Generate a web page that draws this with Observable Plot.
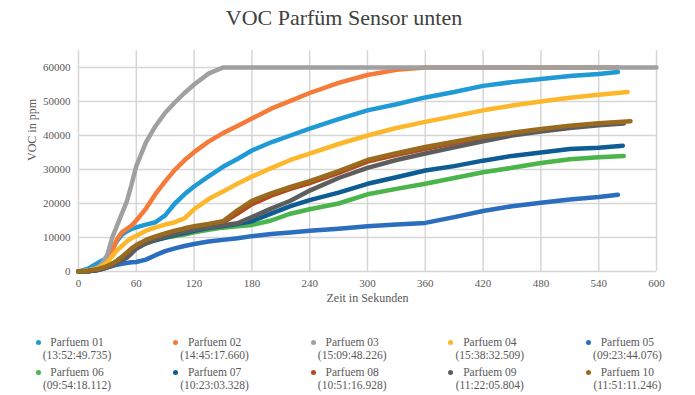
<!DOCTYPE html>
<html><head><meta charset="utf-8">
<script src="https://cdn.jsdelivr.net/npm/d3@7"></script>
<script src="https://cdn.jsdelivr.net/npm/@observablehq/plot@0.6"></script>
<style>
body{margin:0;background:#fff;font-family:"Liberation Serif","Times New Roman",serif;color:#595959;}
#wrap{position:relative;width:695px;height:395px;overflow:hidden;}
#title{height:40px;line-height:36px;text-align:center;font-size:22px;color:#404040;padding-right:7px;}
#legend{position:absolute;left:0;top:0;width:695px;height:395px;}
.mk{position:absolute;width:5px;height:5px;border-radius:50%;}
.tx{position:absolute;width:100px;text-align:center;font-family:"Liberation Serif",serif;font-size:11.5px;line-height:13px;color:#595959;white-space:nowrap;}
</style></head>
<body>
<div id="wrap">
<div id="title">VOC Parfüm Sensor unten</div>
<div id="chart"></div>
<div id="legend"></div>
</div>
<script>
// Time grid (seconds) shared by all series
const tSec = [0,10,20,25,30,35,40,45,50,55,60,70,80,90,100,110,120,135,150,165,180,200,220,240,270,300,330,360,390,420,450,480,510,540];

const p01 = [0,800,2500,3300,4200,6500,9000,10800,11800,12500,13000,13800,14500,16500,20000,22700,25000,28000,30800,33100,35600,38000,40000,42000,44800,47400,49200,51200,52800,54600,55700,56600,57500,58100];
const p02 = [0,300,1200,2000,3000,6000,9500,11500,12500,13500,15000,18500,22800,26500,29900,32700,35100,38200,40700,42800,45000,47900,50200,52500,55500,57800,59300,60000,60000,60000,60000,60000,60000,60000];
const p03 = [0,300,1000,2500,5000,10000,13500,17000,20500,25500,31000,38000,42800,46700,49700,52500,55000,58200,60000,60000,60000,60000,60000,60000,60000,60000,60000,60000,60000,60000,60000,60000,60000,60000];
const p04 = [0,200,1000,1800,2700,4500,6200,7500,8800,9800,10500,12000,13000,13800,14500,15600,18300,21300,23500,25800,27900,30400,32800,34700,37500,40000,42200,44000,45700,47400,48800,50000,51100,52000];
const p05 = [0,100,500,800,1200,1600,2000,2300,2500,2700,2800,3500,4800,6000,6800,7500,8100,8800,9300,9800,10400,11000,11500,12000,12600,13300,13800,14300,16000,17800,19200,20200,21200,21900];
const p06 = [0,100,500,900,1500,2200,3000,4200,5500,6500,7300,8500,9300,9900,10400,10900,11500,12300,12900,13300,13700,15000,17000,18300,20000,22700,24300,25800,27500,29200,30500,31900,33000,33600];
const p07 = [0,100,400,800,1300,2000,2800,3800,5000,6000,7000,8300,9200,10000,10700,11300,12000,12800,13400,14000,14800,17000,19200,21000,23200,25800,27700,29700,31000,32600,34000,35000,36000,36400];
const p08 = [0,150,600,1000,1500,2200,3000,4000,5200,6400,7500,9000,10000,10900,11700,12400,13000,13700,14400,17000,19800,22300,24300,26000,29000,32300,34300,36100,37800,39300,40400,41500,42500,43200];
const p09 = [0,100,500,800,1200,1800,2500,3200,4000,5300,6700,8300,9400,10300,11000,11700,12300,13000,13600,14200,16000,18500,20800,23800,27500,30500,32800,34700,36500,38300,40000,41200,42200,43000];
const p10 = [0,200,700,1100,1600,2300,3200,4300,5500,6800,7800,9300,10300,11200,12000,12700,13300,14000,14800,18000,20800,23000,24900,26600,29500,32800,34800,36600,38200,39700,40800,41900,42900,43600];

// Last recorded sample of each series
const endSec = [560,560,600,570,560,566,565,560,566,573];
const endVal = [58700,60000,60000,52800,22600,34000,37000,43600,43500,44200];

const names = ["Parfuem 01","Parfuem 02","Parfuem 03","Parfuem 04","Parfuem 05","Parfuem 06","Parfuem 07","Parfuem 08","Parfuem 09","Parfuem 10"];
const stamps = ["(13:52:49.735)","(14:45:17.660)","(15:09:48.226)","(15:38:32.509)","(09:23:44.076)","(09:54:18.112)","(10:23:03.328)","(10:51:16.928)","(11:22:05.804)","(11:51:11.246)"];
const colors = ["#1f9ad6","#f47b3a","#a0a0a0","#fdb72a","#2a6ebd","#4bb44a","#0d5d92","#b5481f","#5d5d5d","#9a6b1f"];

const xTicks = [0,60,120,180,240,300,360,420,480,540,600];
const yTicks = [0,10000,20000,30000,40000,50000,60000];

const seriesVals = [p01,p02,p03,p04,p05,p06,p07,p08,p09,p10];
const series = seriesVals.map((vals, i) => {
  const pts = tSec.map((t, k) => ({t, v: vals[k]}));
  pts.push({t: endSec[i], v: endVal[i]});
  return pts;
});

const serif = "'Liberation Serif', 'Times New Roman', serif";
const gridStyle = {stroke: "#d6d6d6", strokeOpacity: 1, strokeWidth: 1.5};
const marks = [
  Plot.gridX(xTicks, gridStyle),
  Plot.gridY(yTicks, gridStyle),
  Plot.axisX(xTicks, {tickSize: 0, tickPadding: 8, label: null, fontSize: 11, fontFamily: serif}),
  Plot.axisY(yTicks, {tickSize: 0, tickPadding: 8, label: null, fontSize: 11, fontFamily: serif, tickFormat: d => String(d)}),
  Plot.text(["Zeit in Sekunden"], {frameAnchor: "bottom", dy: 30, text: d => d, fontSize: 12, fontFamily: serif, fill: "#595959"}),
  Plot.text(["VOC in ppm"], {frameAnchor: "left", dx: -46, rotate: -90, text: d => d, fontSize: 12, fontFamily: serif, fill: "#595959"})
];
series.forEach((pts, i) => {
  marks.push(Plot.line(pts, {x: "t", y: "v", stroke: colors[i], strokeWidth: 4.5, strokeLinecap: "round", strokeLinejoin: "round"}));
});

const chart = Plot.plot({
  width: 695, height: 270,
  marginLeft: 78, marginRight: 39, marginTop: 10, marginBottom: 39,
  style: {fontFamily: serif, color: "#595959", background: "#fff", overflow: "visible"},
  x: {domain: [0, 600]},
  y: {domain: [0, 65000]},
  marks
});
document.getElementById("chart").appendChild(chart);

// Legend
const lg = document.getElementById("legend");
names.forEach((n, i) => {
  const col = i % 5, row = Math.floor(i / 5);
  const mx = 38 + col * 137.6, my = 342 + row * 30;
  const m = document.createElement("div");
  m.className = "mk";
  m.style.left = (mx - 2.5) + "px"; m.style.top = (my - 2.5) + "px";
  m.style.background = colors[i];
  lg.appendChild(m);
  const t = document.createElement("div");
  t.className = "tx";
  t.style.left = (mx + 39 - 50) + "px"; t.style.top = (my - 6.5) + "px";
  t.innerHTML = n + "<br>" + stamps[i];
  lg.appendChild(t);
});
</script>
</body></html>
